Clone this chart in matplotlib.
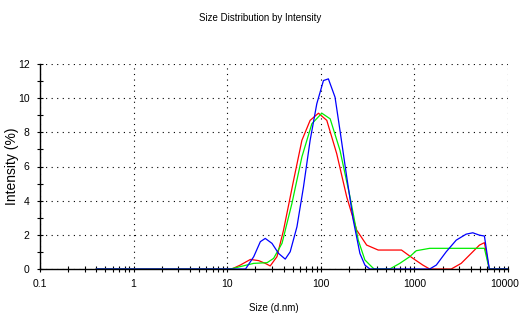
import numpy as np
import matplotlib
matplotlib.use('Agg')
import matplotlib.pyplot as plt
from matplotlib.ticker import FixedLocator, NullFormatter
from matplotlib.transforms import ScaledTranslation

plt.rcParams['font.family'] = ['Liberation Sans', 'DejaVu Sans']

# size (d.nm) / intensity (%)
blue_x = [0.4, 15.7, 19.2, 22.6, 25.5, 30.1, 35.4, 41.7, 47.1, 55.6, 65.3, 76.9, 90.6, 106.7,
          120.5, 141.9, 160.3, 189.2, 222.3, 261.8, 295.8, 334.2, 1455, 1714, 2188, 2799,
          3573, 4207, 4955, 5598, 6310, 10000]
blue_y = [0, 0, 0.72, 1.6, 1.79, 1.5, 0.91, 0.58, 1.01, 2.47, 4.8, 7.53, 9.67, 11.03,
          11.13, 10.06, 8.11, 5.39, 2.86, 0.91, 0.23, 0, 0, 0.23, 1.01, 1.69,
          2.04, 2.12, 1.98, 1.93, 0, 0]

red_x = [0.4, 11.2, 13.8, 17.7, 21.7, 25.5, 28.8, 34.0, 40.0, 51.2, 62.8, 76.9, 94.4, 115.9,
         147.9, 189.2, 241.5, 309.0, 410.2, 727.8, 966.1, 1230, 1455, 2477, 3162, 4036,
         4955, 5598, 6310, 10000]
red_y = [0, 0, 0.23, 0.56, 0.49, 0.33, 0.18, 0.72, 2.28, 5.19, 7.53, 8.7, 9.12, 8.7,
         6.75, 4.22, 2.28, 1.4, 1.11, 1.11, 0.62, 0.23, 0, 0, 0.33, 0.91,
         1.4, 1.54, 0, 0]

green_x = [0.4, 10.8, 13.8, 19.2, 26.7, 31.3, 38.5, 49.1, 62.8, 80.2, 102.6, 125.9, 160.3,
           205.1, 251.2, 295.8, 348.3, 371.5, 545.8, 698.2, 891.3, 1047, 1455, 5598, 6310, 10000]
green_y = [0, 0, 0.14, 0.33, 0.37, 0.62, 1.5, 3.83, 6.56, 8.5, 9.12, 8.79, 6.95,
           4.22, 1.69, 0.53, 0.14, 0, 0, 0.33, 0.72, 1.07, 1.21, 1.21, 0, 0]

fig = plt.figure(figsize=(5.21, 3.28), dpi=100)
ax = fig.add_axes([40 / 521, 1 - 269 / 328, 468 / 521, 205 / 328])

ax.plot(red_x, red_y, color='#ff0000', lw=0.9)
ax.plot(green_x, green_y, color='#00ee00', lw=0.9)
ax.plot(blue_x, blue_y, color='#0000ff', lw=0.9)

ax.set_xscale('log')
ax.set_xlim(0.1, 10000)
ax.set_ylim(0, 12)
ax.set_xticks([0.1, 1, 10, 100, 1000, 10000])
ax.set_xticklabels(['0.1', '1', '10', '100', '1000', '10000'])
ax.set_yticks(range(0, 13, 2))
ax.yaxis.set_minor_locator(FixedLocator(range(0, 13)))
ax.xaxis.set_minor_formatter(NullFormatter())

ax.grid(True, which='major', ls=(0, (1, 4)), color='black', lw=0.8)
for s in ['top', 'right']:
    ax.spines[s].set_visible(False)
ax.spines['left'].set_linewidth(1.0)
ax.spines['bottom'].set_linewidth(1.0)
ax.tick_params(which='both', direction='inout', length=5, width=0.8, labelsize=7.5, pad=5)
ax.tick_params(which='minor', length=4)

# keep the last label inside the figure
last = ax.get_xticklabels()[-1]
last.set_transform(last.get_transform() + ScaledTranslation(-3 / 100, 0, fig.dpi_scale_trans))

ax.set_xlabel('Size (d.nm)', fontsize=7, labelpad=10)
fig.text(12 / 521, 1 - 166 / 328, 'Intensity (%)', rotation=90, ha='center', va='center', fontsize=10)
fig.text(0.5, 1 - 18 / 328, 'Size Distribution by Intensity', ha='center', va='center', fontsize=7)

fig.savefig('out.png', dpi=100)
